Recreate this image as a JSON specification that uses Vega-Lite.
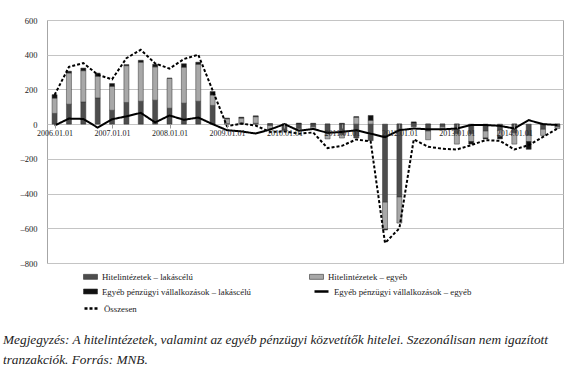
{
  "$schema": "https://vega.github.io/schema/vega-lite/v6.json",
  "width": 516,
  "height": 243,
  "autosize": {"type": "none"},
  "padding": {"left": 47, "top": 20, "right": 17, "bottom": 111},
  "background": "white",
  "config": {
    "font": "Liberation Serif",
    "view": {"stroke": "#a6a6a6", "strokeWidth": 1},
    "legend": {
      "labelFont": "Liberation Serif",
      "labelFontSize": 8.8,
      "labelColor": "#222222",
      "labelLimit": 400,
      "labelBaseline": "middle",
      "padding": 0
    }
  },
  "title": {
    "text": ["Megjegyzés: A hitelintézetek, valamint az egyéb pénzügyi közvetítők hitelei. Szezonálisan nem igazított", "tranzakciók. Forrás: MNB."],
    "orient": "bottom",
    "anchor": "start",
    "frame": "group",
    "dx": -44,
    "offset": 19,
    "font": "Liberation Serif",
    "fontStyle": "italic",
    "fontWeight": "normal",
    "fontSize": 13.3,
    "lineHeight": 20,
    "color": "#222222"
  },
  "resolve": {
    "scale": {"strokeDash": "independent"},
    "legend": {"strokeDash": "independent"}
  },
  "data": {
    "values": [
      {"t": 2006.00, "hl": 62, "he": 88, "el": 20, "ee": -8, "ossz": 168},
      {"t": 2006.25, "hl": 115, "he": 180, "el": 10, "ee": 32, "ossz": 330},
      {"t": 2006.50, "hl": 128, "he": 180, "el": 15, "ee": 30, "ossz": 352},
      {"t": 2006.75, "hl": 151, "he": 125, "el": 18, "ee": -20, "ossz": 285},
      {"t": 2007.00, "hl": 80, "he": 138, "el": 16, "ee": 28, "ossz": 258},
      {"t": 2007.25, "hl": 125, "he": 212, "el": 6, "ee": 45, "ossz": 380},
      {"t": 2007.50, "hl": 132, "he": 225, "el": 11, "ee": 65, "ossz": 428},
      {"t": 2007.75, "hl": 138, "he": 192, "el": 15, "ee": 10, "ossz": 350},
      {"t": 2008.00, "hl": 92, "he": 172, "el": 0, "ee": 50, "ossz": 320},
      {"t": 2008.25, "hl": 121, "he": 207, "el": 20, "ee": 25, "ossz": 375},
      {"t": 2008.50, "hl": 132, "he": 213, "el": 12, "ee": 38, "ossz": 400},
      {"t": 2008.75, "hl": 108, "he": 60, "el": 20, "ee": 0, "ossz": 195},
      {"t": 2009.00, "hl": 3, "he": 28, "el": 4, "ee": -35, "ossz": -12},
      {"t": 2009.25, "hl": 5, "he": 30, "el": 5, "ee": -42, "ossz": 3},
      {"t": 2009.50, "hl": 5, "he": 38, "el": 5, "ee": -54, "ossz": -8},
      {"t": 2009.75, "hl": -8, "he": -20, "el": 3, "ee": -31, "ossz": -45},
      {"t": 2010.00, "hl": -35, "he": -5, "el": 0, "ee": 0, "ossz": -42},
      {"t": 2010.25, "hl": -25, "he": -10, "el": 6, "ee": -38, "ossz": -55},
      {"t": 2010.50, "hl": -15, "he": -10, "el": 5, "ee": -28, "ossz": -48},
      {"t": 2010.75, "hl": -55, "he": -30, "el": 0, "ee": -50, "ossz": -138},
      {"t": 2011.00, "hl": -60, "he": -20, "el": 5, "ee": -45, "ossz": -125},
      {"t": 2011.25, "hl": -80, "he": 40, "el": 3, "ee": -35, "ossz": -88},
      {"t": 2011.50, "hl": -95, "he": 22, "el": 28, "ee": -55, "ossz": -100},
      {"t": 2011.75, "hl": -450, "he": -155, "el": -5, "ee": -75, "ossz": -685},
      {"t": 2012.00, "hl": -420, "he": -150, "el": 0, "ee": -35, "ossz": -600},
      {"t": 2012.25, "hl": -15, "he": 5, "el": 8, "ee": -25, "ossz": -88},
      {"t": 2012.50, "hl": -40, "he": -50, "el": 0, "ee": -30, "ossz": -130},
      {"t": 2012.75, "hl": -15, "he": -10, "el": 0, "ee": -30, "ossz": -142},
      {"t": 2013.00, "hl": -55, "he": -60, "el": 0, "ee": -25, "ossz": -146},
      {"t": 2013.25, "hl": -55, "he": -45, "el": -15, "ee": -5, "ossz": -121},
      {"t": 2013.50, "hl": -40, "he": -40, "el": -5, "ee": -5, "ossz": -92},
      {"t": 2013.75, "hl": -35, "he": -35, "el": -15, "ee": -10, "ossz": -96},
      {"t": 2014.00, "hl": -50, "he": -65, "el": 0, "ee": -25, "ossz": -146},
      {"t": 2014.25, "hl": -65, "he": -35, "el": -45, "ee": 23, "ossz": -121},
      {"t": 2014.50, "hl": -30, "he": -35, "el": 0, "ee": 0, "ossz": -73},
      {"t": 2014.75, "hl": -15, "he": -10, "el": 0, "ee": -5, "ossz": -25}
    ]
  },
  "encoding": {
    "x": {
      "field": "t",
      "type": "quantitative",
      "scale": {"domain": [2005.955, 2014.76], "nice": false, "zero": false},
      "axis": {
        "values": [2006, 2007, 2008, 2009, 2010, 2011, 2012, 2013, 2014],
        "labelExpr": "datum.value + '.01.01'",
        "offset": -139,
        "grid": false,
        "domain": false,
        "ticks": true,
        "tickSize": 4,
        "tickColor": "#999999",
        "labelPadding": 1,
        "labelFont": "Liberation Serif",
        "labelFontSize": 8,
        "labelColor": "#222222",
        "labelFlush": false,
        "labelOverlap": false,
        "title": null,
        "zindex": 1
      }
    }
  },
  "layer": [
    {
      "transform": [{"fold": ["hl", "he", "el"], "as": ["series", "value"]}],
      "mark": {"type": "bar", "size": 5, "stroke": "#333333", "strokeWidth": 0.5},
      "encoding": {
        "y": {
          "field": "value",
          "type": "quantitative",
          "stack": "zero",
          "scale": {"domain": [-800, 600], "nice": false},
          "axis": {
            "values": [-800, -600, -400, -200, 0, 200, 400, 600],
            "labelExpr": "datum.value < 0 ? '–' + abs(datum.value) : '' + datum.value",
            "grid": true,
            "gridColor": "#c4c4c4",
            "domain": false,
            "ticks": false,
            "labelPadding": 10,
            "labelOverlap": false,
            "labelFont": "Liberation Serif",
            "labelFontSize": 8.5,
            "labelColor": "#222222",
            "title": null
          }
        },
        "color": {
          "field": "series",
          "type": "nominal",
          "scale": {
            "domain": ["hl", "he", "el"],
            "range": ["#4d4d4d", "#a8a8a8", "#111111"]
          },
          "legend": {
            "title": null,
            "orient": "none",
            "legendX": 38,
            "legendY": 251,
            "direction": "horizontal",
            "columns": 2,
            "labelExpr": "datum.value == 'hl' ? 'Hitelintézetek – lakáscélú' : datum.value == 'he' ? 'Hitelintézetek – egyéb' : 'Egyéb pénzügyi vállalkozások – lakáscélú'",
            "labelOffset": 6,
            "symbolType": "M-1.4,-0.5H1.4V0.5H-1.4Z",
            "symbolSize": 100,
            "symbolStrokeColor": "#333333",
            "symbolStrokeWidth": 0.6,
            "rowPadding": 4,
            "columnPadding": 56
          }
        },
        "order": {"field": "series", "sort": "descending"}
      }
    },
    {
      "mark": {"type": "line", "strokeWidth": 2, "color": "#000000"},
      "encoding": {
        "y": {
          "field": "ee",
          "type": "quantitative",
          "axis": {
            "values": [-800, -600, -400, -200, 0, 200, 400, 600],
            "labelExpr": "datum.value < 0 ? '–' + abs(datum.value) : '' + datum.value",
            "grid": true,
            "gridColor": "#c4c4c4",
            "domain": false,
            "ticks": false,
            "labelPadding": 10,
            "labelOverlap": false,
            "labelFont": "Liberation Serif",
            "labelFontSize": 8.5,
            "labelColor": "#222222",
            "title": null
          }
        },
        "strokeDash": {
          "datum": "ee",
          "type": "nominal",
          "scale": {"domain": ["ee"], "range": [[1, 0]]},
          "legend": {
            "title": null,
            "orient": "none",
            "legendX": 266,
            "legendY": 263,
            "direction": "horizontal",
            "labelExpr": "'Egyéb pénzügyi vállalkozások – egyéb'",
            "labelOffset": 4,
            "symbolType": "stroke",
            "symbolSize": 196,
            "symbolStrokeColor": "#000000",
            "symbolStrokeWidth": 2.5
          }
        }
      }
    },
    {
      "mark": {"type": "line", "strokeWidth": 2, "color": "#000000"},
      "encoding": {
        "y": {
          "field": "ossz",
          "type": "quantitative",
          "axis": {
            "values": [-800, -600, -400, -200, 0, 200, 400, 600],
            "labelExpr": "datum.value < 0 ? '–' + abs(datum.value) : '' + datum.value",
            "grid": true,
            "gridColor": "#c4c4c4",
            "domain": false,
            "ticks": false,
            "labelPadding": 10,
            "labelOverlap": false,
            "labelFont": "Liberation Serif",
            "labelFontSize": 8.5,
            "labelColor": "#222222",
            "title": null
          }
        },
        "strokeDash": {
          "datum": "ossz",
          "type": "nominal",
          "scale": {"domain": ["ossz"], "range": [[3, 2]]},
          "legend": {
            "title": null,
            "orient": "none",
            "legendX": 36,
            "legendY": 280,
            "direction": "horizontal",
            "labelExpr": "'Összesen'",
            "labelOffset": 4,
            "symbolType": "stroke",
            "symbolSize": 196,
            "symbolStrokeColor": "#000000",
            "symbolStrokeWidth": 2.5
          }
        }
      }
    }
  ]
}
